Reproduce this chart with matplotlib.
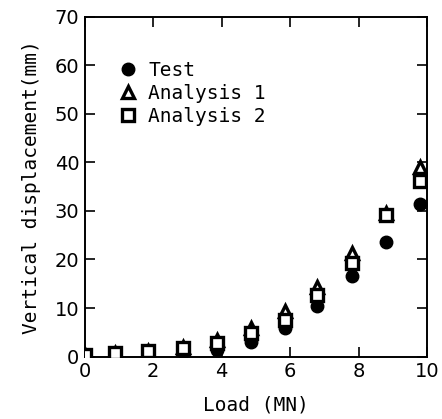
import matplotlib
matplotlib.use("Agg")
import matplotlib.pyplot as plt

# Load steps (MN) and vertical displacement (mm)
load = [0.0, 0.88, 1.85, 2.86, 3.85, 4.87, 5.85, 6.8, 7.8, 8.8, 9.8]
test = [0.3, 0.5, 0.7, 1.0, 1.4, 3.1, 5.8, 10.4, 16.6, 23.7, 31.4]
analysis1 = [0.3, 0.8, 1.2, 1.9, 3.4, 5.8, 9.3, 14.4, 21.3, 29.5, 39.1]
analysis2 = [0.3, 0.7, 1.1, 1.8, 2.7, 4.8, 7.5, 12.7, 19.2, 29.2, 36.2]

series_labels = ["Test", "Analysis 1", "Analysis 2"]
x_ticks = [0, 2, 4, 6, 8, 10]
y_ticks = [0, 10, 20, 30, 40, 50, 60, 70]

mono = "DejaVu Sans Mono"

fig = plt.figure(figsize=(4.42, 4.19), dpi=100)
ax = fig.add_axes([0.192, 0.149, 0.774, 0.811])

ax.plot(load, test, linestyle="none", marker="o", markersize=9,
        markerfacecolor="black", markeredgecolor="black", label=series_labels[0], zorder=3)
ax.plot(load, analysis1, linestyle="none", marker="^", markersize=8.5,
        markerfacecolor="white", markeredgecolor="black", markeredgewidth=2.4,
        label=series_labels[1], zorder=4)
ax.plot(load, analysis2, linestyle="none", marker="s", markersize=8,
        markerfacecolor="white", markeredgecolor="black", markeredgewidth=2.4,
        label=series_labels[2], zorder=5)

ax.set_xlim(0, 10)
ax.set_ylim(0, 70)
ax.set_xticks(x_ticks)
ax.set_yticks(y_ticks)
ax.tick_params(direction="in", length=7, width=1.2, top=True, right=True,
               labelsize=14, pad=4)
for s in ax.spines.values():
    s.set_linewidth(1.4)

ax.set_xlabel("Load (MN)", family=mono, fontsize=14, labelpad=10)
ax.set_ylabel("Vertical displacement(mm)", family=mono, fontsize=14, labelpad=10)

leg = ax.legend(loc="upper left", bbox_to_anchor=(0.075, 0.893), frameon=False,
                prop={"family": mono, "size": 14}, handletextpad=0.55,
                labelspacing=0.2, handlelength=1.0, borderaxespad=0)

fig.savefig("out.png", dpi=100)
